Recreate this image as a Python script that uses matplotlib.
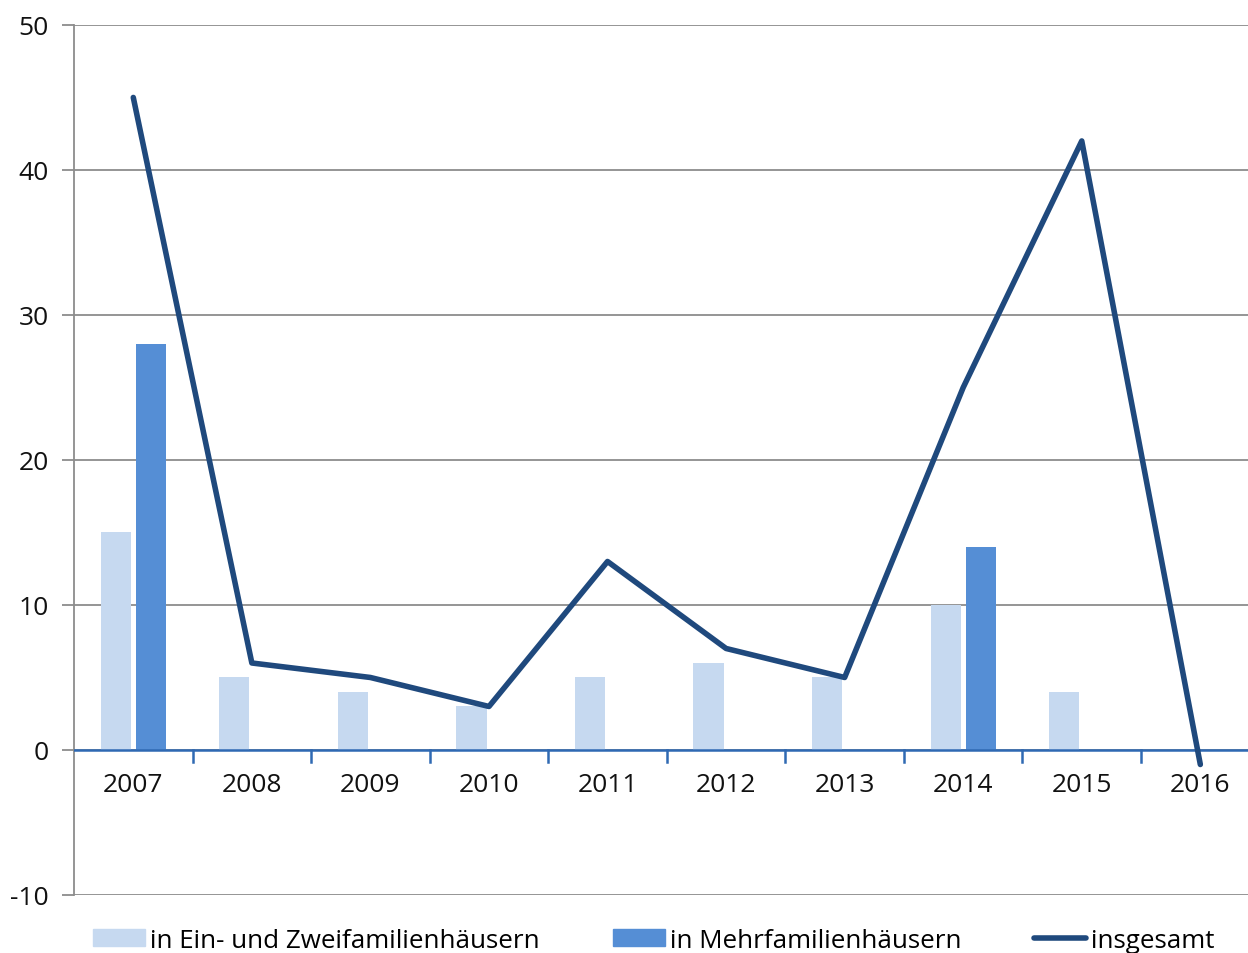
import numpy as np
import matplotlib.pyplot as plt
from matplotlib.patches import Patch
from matplotlib.lines import Line2D

years = ['2007', '2008', '2009', '2010', '2011', '2012', '2013', '2014', '2015', '2016']
ein_zwei = [15, 5, 4, 3, 5, 6, 5, 10, 4, 0]
mehr = [28, 0, 0, 0, 0, 0, 0, 14, 0, 0]
insgesamt = [45, 6, 5, 3, 13, 7, 5, 25, 42, -1]

c_light = '#c6d9f0'
c_dark = '#558ed5'
c_line = '#1f497d'
c_axis = '#2f69b3'

plt.rcParams['font.family'] = ['Open Sans', 'DejaVu Sans']
plt.rcParams['axes.unicode_minus'] = False

fig = plt.figure(figsize=(12.48, 9.54), dpi=100)
ax = fig.add_axes([0.0593, 0.0608, 0.950, 0.912])

x = np.arange(1, len(years) + 1)
w = 0.255
ax.bar(x - 0.148, ein_zwei, width=w, color=c_light, zorder=2)
ax.bar(x + 0.148, mehr, width=w, color=c_dark, zorder=2)
ax.plot(x, insgesamt, color=c_line, lw=4, zorder=4, solid_capstyle='round')

ax.set_xlim(0.5, 10.5)
ax.set_ylim(-10, 50)
ax.set_yticks(range(-10, 51, 10))
ax.grid(axis='y', color='#8c8c8c', lw=1.3, zorder=0)
ax.set_axisbelow(True)

for s in ['top', 'right', 'bottom']:
    ax.spines[s].set_visible(False)
ax.spines['left'].set_color('#8c8c8c')
ax.spines['left'].set_linewidth(1.3)
ax.axhline(0, color=c_axis, lw=1.8, zorder=3)

# category labels just under the zero line, ticks between categories
ax.set_xticks([])
for xi, lab in zip(x, years):
    ax.text(xi, -1.5, lab, ha='center', va='top', fontsize=19, color='#111111')
for xb in np.arange(1.5, 10.5, 1.0):
    ax.plot([xb, xb], [0, -0.8], color=c_axis, lw=1.8, zorder=3, clip_on=False)

ax.tick_params(axis='y', length=9, width=1.3, color='#8c8c8c', labelsize=19, pad=9, labelcolor='#111111')

handles = [Patch(color=c_light), Patch(color=c_dark), Line2D([], [], color=c_line, lw=4, solid_capstyle='round')]
labels = ['in Ein- und Zweifamilienhäusern', 'in Mehrfamilienhäusern', 'insgesamt']
fig.legend(handles, labels, loc='lower left', bbox_to_anchor=(0.056, -0.024), ncol=3, frameon=False,
           fontsize=18.7, handlelength=2.0, handleheight=0.6, handletextpad=0.2, columnspacing=2.8)

fig.savefig('out.png', dpi=100)
